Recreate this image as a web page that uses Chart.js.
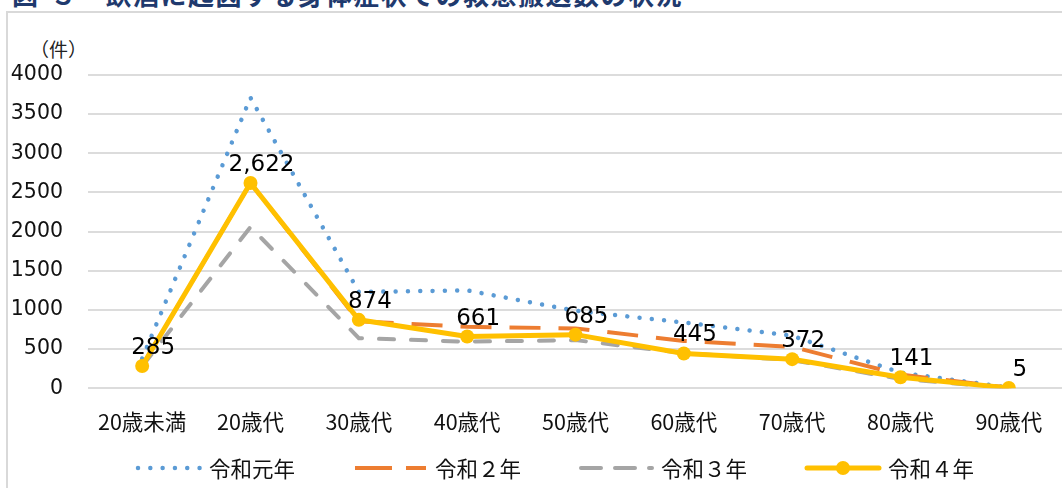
<!DOCTYPE html>
<html lang="ja">
<head>
<meta charset="utf-8">
<script src="https://cdn.jsdelivr.net/npm/chart.js@4.4.1/dist/chart.umd.min.js"></script>
<style>
  html, body { margin:0; padding:0; background:#fff; overflow:hidden; width:1062px; height:488px; }
  #title { position:absolute; left:12px; top:-19px; font:bold 26px/26px "Noto Sans CJK JP", sans-serif; color:#1f3a6e; letter-spacing:1.5px; white-space:nowrap; }
  #frame { position:absolute; left:6px; top:11px; width:1100px; height:520px; border:2px solid #d9d9d9; box-sizing:border-box; }
  #unit { position:absolute; left:30px; top:38px; font:19px/22px "Noto Sans CJK JP", sans-serif; color:#222; }
  #wrap { position:absolute; left:0; top:0; width:1070px; height:488px; }
</style>
</head>
<body>
<div id="title">図-３　飲酒に起因する身体症状での救急搬送数の状況</div>
<div id="frame"></div>
<div id="unit">（件）</div>
<div id="wrap"><canvas id="c" width="1070" height="488"></canvas></div>
<script>
// —— データ —— //
const categories = ['20歳未満','20歳代','30歳代','40歳代','50歳代','60歳代','70歳代','80歳代','90歳代'];
const seriesNames = ['令和元年','令和２年','令和３年','令和４年'];
const r1 = [380, 3710, 1230, 1250, 990, 840, 670, 200, 10];
const r2 = [285, 2620, 855, 785, 765, 605, 530, 175, 8];
const r3 = [280, 2060, 640, 595, 615, 450, 360, 120, 5];
const r4 = [285, 2622, 874, 661, 685, 445, 372, 141, 5];
const yMin = 0, yMax = 4000, yStep = 500;

const colors = ['#5b9bd5', '#ed7d31', '#a5a5a5', '#ffc000'];

// 令和４年だけ数値ラベル
const valueLabels = {
  id: 'valueLabels',
  afterDatasetsDraw(chart){
    const ctx = chart.ctx;
    const meta = chart.getDatasetMeta(3);
    ctx.save();
    ctx.font = '23px "DejaVu Sans", Verdana, sans-serif';
    ctx.fillStyle = '#000';
    ctx.textAlign = 'center';
    ctx.textBaseline = 'alphabetic';
    meta.data.forEach((pt, i) => {
      ctx.fillText(r4[i].toLocaleString('en-US'), pt.x + 11, pt.y - 12);
    });
    ctx.restore();
  }
};

// 凡例（線種サンプル付き）を自前で描く
const lineLegend = {
  id: 'lineLegend',
  afterDraw(chart){
    const ctx = chart.ctx;
    const ds = chart.data.datasets;
    const sw = [64, 71, 71, 72];   // サンプル線の長さ
    const gap = 9, itemGap = 60, cy = 468;
    ctx.save();
    ctx.font = '21.5px "Noto Sans CJK JP", sans-serif';
    const widths = ds.map((d, i) => sw[i] + gap + ctx.measureText(d.label).width);
    const total = widths.reduce((a, b) => a + b, 0) + itemGap * (ds.length - 1);
    let x = 555 - total / 2;
    ds.forEach((d, i) => {
      ctx.save();
      ctx.strokeStyle = d.borderColor;
      ctx.lineWidth = d.borderWidth;
      ctx.lineCap = d.borderCapStyle || 'butt';
      ctx.setLineDash(i === 1 ? [37, 14] : i === 2 ? [20, 14] : (d.borderDash || []));
      ctx.beginPath();
      ctx.moveTo(x + (i === 0 ? 2 : 0), cy);
      ctx.lineTo(x + sw[i], cy);
      ctx.stroke();
      if (d.pointRadius > 0){
        ctx.setLineDash([]);
        ctx.fillStyle = d.borderColor;
        ctx.beginPath();
        ctx.arc(x + sw[i] / 2, cy, d.pointRadius, 0, Math.PI * 2);
        ctx.fill();
      }
      ctx.restore();
      ctx.fillStyle = '#111';
      ctx.textBaseline = 'middle';
      ctx.textAlign = 'left';
      ctx.fillText(d.label, x + sw[i] + gap, cy + 1);
      x += widths[i] + itemGap;
    });
    ctx.restore();
  }
};

new Chart(document.getElementById('c'), {
  type: 'line',
  data: {
    labels: categories,
    datasets: [
      { label: seriesNames[0], data: r1, borderColor: colors[0], borderWidth: 4.5, borderDash: [0.01, 12.3], borderCapStyle: 'round', pointRadius: 0, order: 3 },
      { label: seriesNames[1], data: r2, borderColor: colors[1], borderWidth: 4, borderDash: [31, 18], borderCapStyle: 'butt', pointRadius: 0, order: 2 },
      { label: seriesNames[2], data: r3, borderColor: colors[2], borderWidth: 4, borderDash: [15, 17], borderCapStyle: 'round', pointRadius: 0, order: 1 },
      { label: seriesNames[3], data: r4, borderColor: colors[3], backgroundColor: colors[3], borderWidth: 5, borderCapStyle: 'round', borderJoinStyle: 'round',
        pointRadius: 7, pointBackgroundColor: colors[3], pointBorderWidth: 0, order: 0 }
    ]
  },
  options: {
    responsive: false,
    animation: false,
    devicePixelRatio: 1,
    layout: { padding: { left: 0, right: 4, top: 75, bottom: 0 } },
    elements: { line: { tension: 0, fill: false } },
    scales: {
      x: {
        offset: true,
        grid: { display: false, drawTicks: false, offset: true },
        border: { display: false },
        ticks: { color: '#111', font: { family: '"Noto Sans CJK JP", sans-serif', size: 21.5 }, padding: 21, maxRotation: 0, autoSkip: false },
        afterFit(scale){ scale.height = 99.7; }
      },
      y: {
        min: yMin, max: yMax,
        grid: { color: '#dcdcdc', lineWidth: 2, drawTicks: false },
        border: { display: false },
        ticks: { stepSize: yStep, color: '#111', font: { family: '"DejaVu Sans", Verdana, sans-serif', size: 20.5 }, padding: 25,
          callback: v => String(v) },
        afterFit(scale){ scale.width = 88; }
      }
    },
    plugins: { legend: { display: false }, tooltip: { enabled: false } }
  },
  plugins: [valueLabels, lineLegend]
});
</script>
</body>
</html>
